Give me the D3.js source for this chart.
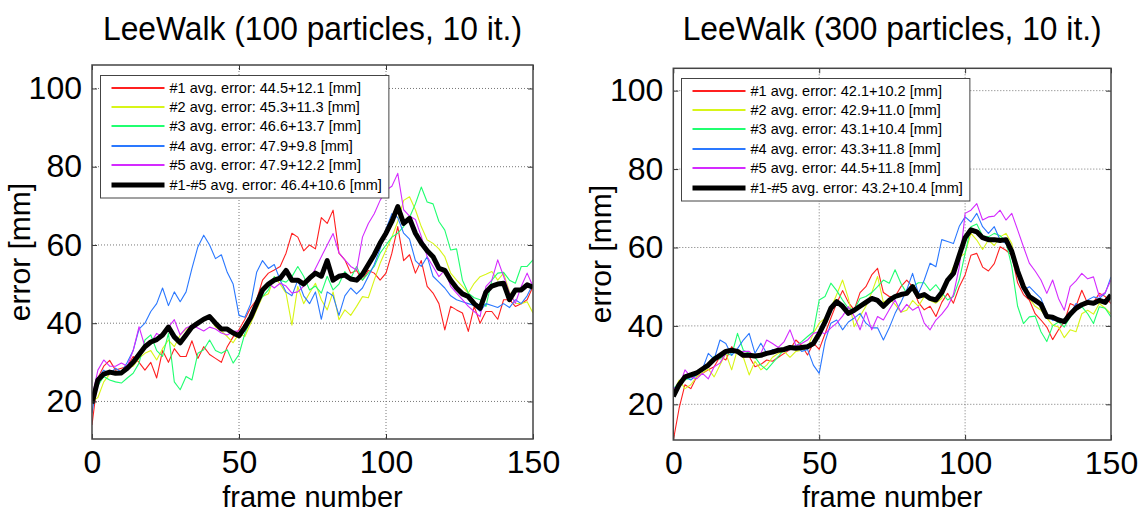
<!DOCTYPE html>
<html>
<head>
<meta charset="utf-8">
<script src="https://cdn.jsdelivr.net/npm/d3@7"></script>
<style>
  html, body { margin: 0; padding: 0; background: #fff; }
  svg { display: block; }
  text { font-family: 'Liberation Sans', Arial, sans-serif; fill: #000; }
</style>
</head>
<body>
<svg id="chart" width="1143" height="514"></svg>
<script>
// ---- data (frame number sampled every 2 frames) ----
const frames = d3.range(0, 151, 2);
const xTicks = [0, 50, 100, 150];
const yTicks = [20, 40, 60, 80, 100];

const titles = ['LeeWalk (100 particles, 10 it.)', 'LeeWalk (300 particles, 10 it.)'];
const xLabel = 'frame number';
const yLabel = 'error [mm]';

const legend100 = [
  '#1 avg. error: 44.5+12.1 [mm]',
  '#2 avg. error: 45.3+11.3 [mm]',
  '#3 avg. error: 46.6+13.7 [mm]',
  '#4 avg. error: 47.9+9.8 [mm]',
  '#5 avg. error: 47.9+12.2 [mm]',
  '#1-#5 avg. error: 46.4+10.6 [mm]'
];
const legend300 = [
  '#1 avg. error: 42.1+10.2 [mm]',
  '#2 avg. error: 42.9+11.0 [mm]',
  '#3 avg. error: 43.1+10.4 [mm]',
  '#4 avg. error: 43.3+11.8 [mm]',
  '#5 avg. error: 44.5+11.8 [mm]',
  '#1-#5 avg. error: 43.2+10.4 [mm]'
];

// 100 particles
const run1_100 = [14, 26, 29, 30.5, 28, 28.5, 29, 31.5, 30, 28,
  30, 26, 33, 30, 33.5, 31.5, 31.5, 35.5, 31, 34,
  32, 31, 30, 34, 36.5, 38.3, 41, 44, 46, 51,
  52.8, 53.6, 54.5, 57.9, 63, 62, 58.5, 60, 59, 67,
  65.5, 68.9, 57.9, 56.2, 52.8, 53.5, 51, 53.5, 52.8, 51,
  52.8, 57.9, 64.7, 56, 57.5, 52.8, 56, 49.4, 47.7, 45,
  38.3, 44.3, 43.4, 42.6, 37.9, 44.3, 40, 43, 43, 41,
  46, 46, 44.3, 45, 46, 49.4];
const run2_100 = [20, 21, 25, 27, 27.5, 27, 28.5, 29, 31, 32.3,
  33, 30.6, 33.5, 35.7, 34, 37, 38.5, 39.5, 40.5, 41,
  41.7, 39, 38, 36.6, 35, 37.4, 36.6, 40, 43.4, 46.8,
  47.5, 51.9, 50, 47.7, 39.5, 49.4, 45, 47.7, 50.2, 46,
  43.4, 48, 40.9, 43.4, 42, 44.3, 46.8, 46.5, 51, 55.3,
  58.7, 62, 66, 71.4, 72.3, 69, 64.7, 61.3, 60.4, 59,
  57, 52.8, 51, 49.4, 47.7, 50.2, 51.9, 52.5, 53.2, 51,
  52.8, 48, 45.1, 45, 45.5, 42.6];
const run3_100 = [22, 24, 26.4, 25.5, 25, 24.7, 26, 27.2, 29.8, 35.7,
  37, 33, 31.5, 37.4, 25, 23, 26.4, 25.5, 32.3, 33.2,
  35.7, 33, 32.3, 33.2, 29.8, 32, 37.4, 40.9, 45, 46.8,
  48.5, 51.9, 51, 50.5, 51.9, 54.5, 52, 48.5, 49.5, 47.7,
  52, 48.5, 50, 53.2, 51.5, 54.5, 51, 52.8, 54.5, 57.9,
  60, 62, 63, 64.7, 67, 70.5, 74.8, 71, 70.5, 66,
  63.8, 58.7, 59, 51, 47.7, 46.5, 46, 44.3, 51, 52.8,
  53, 51, 50.2, 54.5, 54.5, 56.2];
const run4_100 = [17, 26, 28, 27, 28.5, 27.5, 30, 33, 38.5, 40,
  43, 45, 49, 44.5, 48, 45.5, 48, 54, 59.5, 62.5,
  60, 56.5, 57.5, 53, 50, 42, 41.5, 45, 53, 56,
  54, 55, 51, 48, 47, 51, 47, 45, 48, 41,
  48, 47, 42, 47, 49, 47.5, 49, 52, 55, 59,
  64, 68, 67, 63, 61.5, 56, 54.5, 57, 52, 50.5,
  49, 47, 46, 45.5, 45, 44.5, 43, 45, 44.5, 44,
  45, 44, 46, 45, 47, 50];
const run5_100 = [21, 28, 30.6, 29, 29, 29.8, 29, 33, 39.1, 34,
  35, 37.4, 36.5, 39, 40.9, 37, 38.8, 39.5, 38.8, 38,
  39, 38.5, 37.5, 37, 37.9, 38, 38, 42, 44.3, 47.7,
  50.2, 49, 50.2, 49.5, 47.7, 48, 49.5, 51, 54, 57,
  60, 62.9, 58, 56.2, 54.5, 53.6, 62, 65.5, 68, 71.4,
  74, 75, 78.3, 69, 67.4, 66.5, 62.2, 57, 54.5, 51.9,
  53.6, 49.4, 47.7, 46, 44.3, 43, 41.7, 49.4, 51, 56.2,
  52, 47.7, 45.1, 49.4, 52.8, 49.4];
const avg_100 = [19.5, 25.5, 27, 27.5, 27.2, 27.3, 28.5, 30, 32, 34,
  35.2, 35.8, 37, 39, 36.5, 35, 37, 39, 40, 41,
  41.7, 40, 38.5, 38.5, 37.5, 36.8, 39, 41.5, 45, 48.5,
  50, 51, 51.5, 53.5, 51, 51, 50, 51.5, 52.8, 52,
  56, 51, 52, 52.3, 51.3, 51, 52.5, 55, 57.5, 60.5,
  63, 66, 69.8, 65.5, 66.8, 63, 60.5, 58.5, 57, 54,
  53.5, 51, 49, 47.5, 46.8, 45, 43.8, 48, 49.5, 50,
  50.2, 46, 48.5, 48.5, 49.8, 49.2];

// 300 particles
const run1_300 = [10.8, 19, 25, 24, 27, 27.9, 28.8, 29.6, 32.2, 31.3,
  34.7, 33, 32, 32.2, 29.6, 30.2, 31.3, 31, 32, 33,
  34, 36.4, 35, 32.6, 35.6, 34, 38, 42, 45.8, 49,
  46, 44.1, 48.5, 50, 53, 54.7, 48.5, 47.5, 47.5, 50,
  51.7, 50, 46, 44.1, 45, 42.4, 46, 48.3, 45.8, 50,
  53, 58, 58.5, 55, 54, 55.9, 60.2, 59.3, 58, 51,
  48, 46.6, 43.1, 41.5, 39.7, 36.5, 39, 41, 45.7, 45,
  49.1, 45.7, 46, 48.3, 47.5, 45.7];
const run2_300 = [23, 26.2, 24, 25, 27, 28, 29, 27, 30, 33,
  28.8, 34, 32, 27.5, 31, 28.8, 30, 32, 33, 33.5,
  32, 33.5, 33.8, 34.5, 38.1, 40.7, 42, 44.5, 48, 51.7,
  47, 39.8, 42.5, 45, 48.5, 52.6, 46, 47, 45.5, 43.5,
  44, 46.5, 45, 47.5, 46.5, 45.8, 47, 51.5, 55.1, 57.5,
  58.5, 63.6, 61.9, 59.5, 61.9, 60.5, 62.7, 63.6, 61, 53,
  49.5, 47, 45, 44, 42, 40.2, 39.7, 37, 39, 38.5,
  43.1, 44, 43, 45.7, 44.5, 43.1];
const run3_300 = [24, 25.5, 26.2, 26.8, 27.5, 29.2, 30.5, 32.2, 31.5, 33,
  32.5, 38.1, 33.8, 33, 32, 30, 28.8, 30.5, 32.2, 34,
  34.8, 34.8, 36, 37.3, 38.5, 46.6, 47.5, 50.9, 49, 46.6,
  44.5, 44.1, 47, 47.5, 48.5, 50, 51.7, 50.9, 54.3, 50.9,
  48.3, 50, 51, 51, 49, 50.5, 48.5, 46.6, 47.5, 51.7,
  58.5, 65.3, 66, 63, 62.7, 63.6, 63, 61.5, 55.1, 45,
  40.6, 42.3, 42.5, 38.5, 36, 40, 41, 39.7, 42.3, 44,
  44.9, 43.1, 40.6, 44.9, 44.5, 42.3];
const run4_300 = [24, 24.8, 27, 26.2, 27.5, 29, 33, 31.5, 36.4, 35.5,
  32.5, 34.2, 36.4, 38.1, 33, 35.6, 33, 34, 33.5, 33.5,
  34, 35, 33.5, 34, 30, 27.9, 36, 40.7, 41.5, 39,
  41, 42, 43.2, 40.7, 39.5, 39.5, 36.4, 39.5, 43.2, 46,
  49.2, 53.4, 48.3, 51.7, 56, 55.1, 62, 61.5, 61, 65.4,
  67.8, 66.5, 68.7, 65.3, 63.6, 65.3, 61.9, 61, 58.5, 54.2,
  49.1, 50, 48.5, 47, 43.1, 41.4, 42, 40.6, 43.1, 45.7,
  44.9, 46.6, 47.4, 47, 48.3, 52.5];
const run5_300 = [24, 24.5, 28.8, 27, 26.5, 27.9, 26.5, 29.6, 30.5, 33,
  33.8, 33, 33.5, 33.5, 32, 33, 36.4, 35.5, 34.5, 36,
  39, 35, 35.5, 36.4, 38.1, 38.5, 38, 39.5, 40.7, 42.5,
  44.9, 42.5, 39, 43.5, 39, 42.4, 41.5, 44.1, 46.6, 43.5,
  45.5, 44, 44.9, 40.7, 39, 41.5, 43, 44.9, 48, 55,
  68.7, 69.5, 71.2, 67, 67.8, 68, 69.5, 67, 68.7, 64.5,
  60.2, 56, 54, 51.7, 48.3, 51.7, 47, 44, 50, 51.5,
  53.4, 52, 52.5, 47.5, 48.5, 51.7];
const avg_300 = [22, 25, 27, 27.5, 28, 29, 30, 31.5, 32.5, 33.5,
  33.8, 33.5, 32.5, 32.5, 32.3, 32.5, 33, 33.3, 33.8, 34,
  34.5, 34.3, 34.5, 34.7, 35.5, 38, 41, 44.5, 46.2, 45,
  43.2, 44, 45, 46, 47, 46.5, 45, 46.5, 47.5, 48,
  48.3, 50, 47.5, 48, 47, 46.6, 48.5, 51.7, 53.4, 58,
  62.5, 64.5, 64, 62.5, 62, 62, 61.8, 62, 59, 54,
  50, 47.5, 46.5, 45.5, 42.4, 42.2, 41.5, 41.1, 43, 44.5,
  45.4, 46, 45.8, 46.5, 46, 47.9];

// line colours (matlab hsv(5), thin lines look a bit lighter) + average
const runColors = ['#ff2020', '#d8f518', '#20ff70', '#2a78ff', '#d42aff', '#000000'];

// ---- layout ----
const FONT = "'Liberation Sans', Arial, sans-serif";
const panels = [
  { left: 92, right: 533, top: 65, bottom: 439, yDomain: [10.4, 106],
    title: titles[0], legend: legend100,
    series: [run1_100, run2_100, run3_100, run4_100, run5_100, avg_100] },
  { left: 673.3, right: 1111, top: 68.3, bottom: 440, yDomain: [10.9, 105.7],
    title: titles[1], legend: legend300,
    series: [run1_300, run2_300, run3_300, run4_300, run5_300, avg_300] }
];

const svg = d3.select('#chart');

panels.forEach((p, pi) => {
  const w = p.right - p.left;
  const h = p.bottom - p.top;
  const x = d3.scaleLinear().domain([0, 150]).range([p.left, p.right]);
  const y = d3.scaleLinear().domain(p.yDomain).range([p.bottom, p.top]);
  const g = svg.append('g');

  /* ---------- dotted grid ---------- */
  g.append('g').selectAll('line')
    .data(xTicks.filter(d => d > 0 && d < 150))
    .join('line')
    .attr('x1', d => x(d)).attr('x2', d => x(d))
    .attr('y1', p.top).attr('y2', p.bottom)
    .attr('stroke', '#777').attr('stroke-width', 1)
    .attr('stroke-dasharray', '1,2');
  g.append('g').selectAll('line')
    .data(yTicks)
    .join('line')
    .attr('x1', p.left).attr('x2', p.right)
    .attr('y1', d => y(d)).attr('y2', d => y(d))
    .attr('stroke', '#777').attr('stroke-width', 1)
    .attr('stroke-dasharray', '1,2');

  /* ---------- lines ---------- */
  const clipId = 'clip' + pi;
  svg.append('clipPath').attr('id', clipId)
    .append('rect').attr('x', p.left).attr('y', p.top).attr('width', w).attr('height', h);

  const line = d3.line()
    .x((d, i) => x(frames[i]))
    .y(d => y(d));

  const lines = g.append('g').attr('clip-path', `url(#${clipId})`);
  p.series.forEach((s, si) => {
    lines.append('path')
      .datum(s)
      .attr('d', line)
      .attr('fill', 'none')
      .attr('stroke', runColors[si])
      .attr('stroke-width', si === 5 ? 5 : 1.1)
      .attr('stroke-linejoin', 'round');
  });

  /* ---------- box + inward ticks ---------- */
  const tickStyle = (sel) => {
    sel.select('.domain').remove();
    sel.selectAll('line').attr('stroke', '#333').attr('stroke-width', 1);
  };
  g.append('g').attr('transform', `translate(${p.left},0)`)
    .call(d3.axisLeft(y).tickValues(yTicks).tickSize(-5).tickFormat(''))
    .call(tickStyle);
  g.append('g').attr('transform', `translate(${p.right},0)`)
    .call(d3.axisRight(y).tickValues(yTicks).tickSize(-5).tickFormat(''))
    .call(tickStyle);
  g.append('g').attr('transform', `translate(0,${p.bottom})`)
    .call(d3.axisBottom(x).tickValues(xTicks).tickSize(-5).tickFormat(''))
    .call(tickStyle);
  g.append('g').attr('transform', `translate(0,${p.top})`)
    .call(d3.axisTop(x).tickValues(xTicks).tickSize(-5).tickFormat(''))
    .call(tickStyle);

  g.append('rect')
    .attr('x', p.left).attr('y', p.top).attr('width', w).attr('height', h)
    .attr('fill', 'none').attr('stroke', '#444').attr('stroke-width', 1.5);

  /* ---------- tick labels ---------- */
  const labelStyle = (sel) => {
    sel.select('.domain').remove();
    sel.selectAll('line').remove();
    sel.selectAll('text')
      .attr('font-family', FONT).attr('font-size', 32).attr('fill', '#000');
  };
  g.append('g').attr('transform', `translate(${p.left},0)`)
    .call(d3.axisLeft(y).tickValues(yTicks).tickSize(0).tickPadding(10))
    .call(labelStyle);
  g.append('g').attr('transform', `translate(0,${p.bottom})`)
    .call(d3.axisBottom(x).tickValues(xTicks).tickSize(0).tickPadding(11))
    .call(labelStyle);

  /* ---------- axis labels and title ---------- */
  g.append('text')
    .attr('x', (p.left + p.right) / 2).attr('y', 507)
    .attr('text-anchor', 'middle')
    .attr('font-size', 29)
    .text(xLabel);

  g.append('text')
    .attr('transform', `translate(${p.left - 62},${(p.top + p.bottom) / 2}) rotate(-90)`)
    .attr('text-anchor', 'middle')
    .attr('font-size', 30)
    .text(yLabel);

  g.append('text')
    .attr('x', (p.left + p.right) / 2).attr('y', 40)
    .attr('text-anchor', 'middle')
    .attr('font-size', 34)
    .attr('textLength', 419)
    .attr('lengthAdjust', 'spacingAndGlyphs')
    .text(p.title);

  /* ---------- legend ---------- */
  const lx = Math.round(p.left + 8) + 0.5, ly = Math.round(p.top + 10) + 0.5;
  const rowH = 19.45;
  const leg = g.append('g');
  const box = leg.append('rect')
    .attr('x', lx).attr('y', ly).attr('height', 122.5)
    .attr('fill', '#fff').attr('stroke', '#444').attr('stroke-width', 1);
  let maxW = 0;
  p.legend.forEach((label, i) => {
    const cy = Math.round(ly + 12 + i * rowH);
    leg.append('line')
      .attr('x1', lx + 11).attr('x2', lx + 64)
      .attr('y1', cy).attr('y2', cy)
      .attr('stroke', runColors[i])
      .attr('stroke-width', i === 5 ? 5 : 2);
    const t = leg.append('text')
      .attr('x', lx + 69).attr('y', cy + 5)
      .attr('font-size', 14.5)
      .text(label);
    maxW = Math.max(maxW, t.node().getComputedTextLength());
  });
  box.attr('width', 69 + maxW + 7);
});
</script>
</body>
</html>
